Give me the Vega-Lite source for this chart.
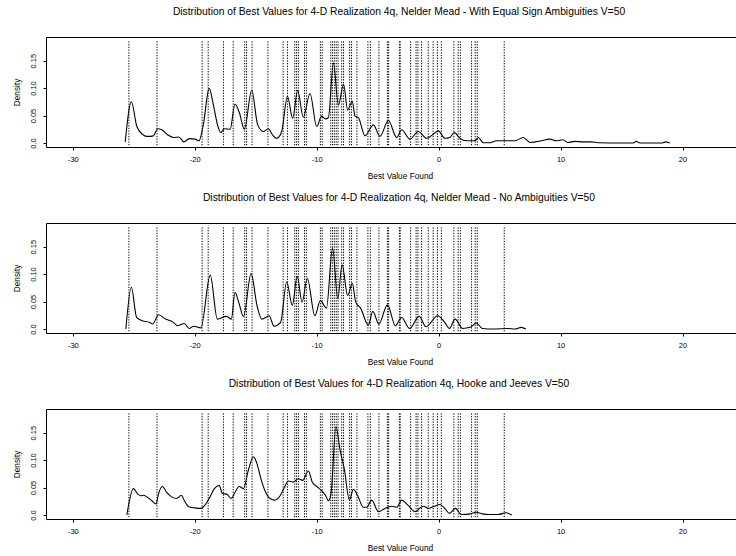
{
  "$schema": "https://vega.github.io/schema/vega-lite/v6.json",
  "padding": {"left": 12, "top": 6, "right": 0, "bottom": 0},
  "background": "white",
  "config": {
    "font": "Liberation Sans",
    "view": {"stroke": null},
    "axis": {"grid": false, "domainColor": "black", "tickColor": "black", "labelColor": "black", "titleColor": "black", "labelFontSize": 7.5, "titleFontSize": 8.3, "titleFontWeight": "normal", "tickSize": 3},
    "title": {"fontSize": 10.3, "fontWeight": "normal", "color": "black", "anchor": "middle", "dx": 7, "offset": 20}
  },
  "spacing": 76,
  "bounds": "flush",
  "datasets": {
    "vlines": [
      {"v": -25.4}, {"v": -23.1}, {"v": -19.4}, {"v": -18.9}, {"v": -17.65}, {"v": -16.85}, {"v": -15.9}, {"v": -15.75}, {"v": -15.3}, {"v": -14.0},
      {"v": -12.75}, {"v": -12.4}, {"v": -11.8}, {"v": -11.65}, {"v": -11.5}, {"v": -11.0}, {"v": -10.85}, {"v": -9.7}, {"v": -9.55},
      {"v": -8.85}, {"v": -8.7}, {"v": -8.55}, {"v": -8.4}, {"v": -8.25}, {"v": -7.95}, {"v": -7.8}, {"v": -7.3}, {"v": -7.15}, {"v": -6.7},
      {"v": -5.8}, {"v": -5.6}, {"v": -4.9}, {"v": -4.2}, {"v": -4.1}, {"v": -3.22}, {"v": -3.15}, {"v": -2.3}, {"v": -1.85}, {"v": -1.7},
      {"v": -1.4}, {"v": -0.85}, {"v": -0.45}, {"v": -0.1}, {"v": 0.22}, {"v": 1.25}, {"v": 1.6}, {"v": 1.78}, {"v": 2.7}, {"v": 3.0}, {"v": 3.17}, {"v": 5.38}
    ],
    "p1": [
      {"v": -25.7, "d": 0.002}, {"v": -25.2, "d": 0.075}, {"v": -24.75, "d": 0.030}, {"v": -24.3, "d": 0.016}, {"v": -24.1, "d": 0.013}, {"v": -23.8, "d": 0.012}, {"v": -23.4, "d": 0.013}, {"v": -23.03, "d": 0.026}, {"v": -22.7, "d": 0.024}, {"v": -22.2, "d": 0.0145},
      {"v": -21.75, "d": 0.010}, {"v": -21.3, "d": 0.011}, {"v": -20.9, "d": 0.002}, {"v": -20.45, "d": 0.008}, {"v": -19.97, "d": 0.007}, {"v": -19.65, "d": 0.004}, {"v": -19.3, "d": 0.033}, {"v": -18.82, "d": 0.0995}, {"v": -18.47, "d": 0.069}, {"v": -18.1, "d": 0.030},
      {"v": -17.87, "d": 0.019}, {"v": -17.57, "d": 0.026}, {"v": -17.1, "d": 0.025}, {"v": -16.7, "d": 0.071}, {"v": -16.34, "d": 0.055}, {"v": -15.93, "d": 0.025}, {"v": -15.33, "d": 0.096}, {"v": -14.84, "d": 0.033}, {"v": -14.37, "d": 0.021}, {"v": -13.96, "d": 0.026},
      {"v": -13.63, "d": 0.015}, {"v": -13.28, "d": 0.0085}, {"v": -12.87, "d": 0.021}, {"v": -12.4, "d": 0.085}, {"v": -11.97, "d": 0.045}, {"v": -11.56, "d": 0.096}, {"v": -11.1, "d": 0.047}, {"v": -10.55, "d": 0.090}, {"v": -10.0, "d": 0.030}, {"v": -9.6, "d": 0.049},
      {"v": -9.3, "d": 0.044}, {"v": -9.04, "d": 0.046}, {"v": -8.63, "d": 0.146}, {"v": -8.22, "d": 0.069}, {"v": -7.8, "d": 0.107}, {"v": -7.46, "d": 0.060}, {"v": -7.08, "d": 0.076}, {"v": -6.86, "d": 0.049}, {"v": -6.58, "d": 0.046}, {"v": -6.04, "d": 0.013},
      {"v": -5.35, "d": 0.033}, {"v": -4.81, "d": 0.012}, {"v": -4.12, "d": 0.041}, {"v": -3.44, "d": 0.010}, {"v": -3.03, "d": 0.024}, {"v": -2.35, "d": 0.007}, {"v": -1.67, "d": 0.021}, {"v": -0.98, "d": 0.0085}, {"v": -0.44, "d": 0.016}, {"v": -0.03, "d": 0.022},
      {"v": 0.52, "d": 0.0085}, {"v": 0.93, "d": 0.010}, {"v": 1.28, "d": 0.019}, {"v": 1.75, "d": 0.0085}, {"v": 2.3, "d": 0.004}, {"v": 2.98, "d": 0.004}, {"v": 3.25, "d": 0.010}, {"v": 3.66, "d": 0.0005}, {"v": 4.2, "d": 0.0005}, {"v": 4.75, "d": 0.004},
      {"v": 5.4, "d": 0.004}, {"v": 6.25, "d": 0.004}, {"v": 6.94, "d": 0.010}, {"v": 7.5, "d": 0.001}, {"v": 8.44, "d": 0.004}, {"v": 9.1, "d": 0.007}, {"v": 9.67, "d": 0.004}, {"v": 10.2, "d": 0.006}, {"v": 10.6, "d": 0.001}, {"v": 11.17, "d": 0.003},
      {"v": 11.86, "d": 0.002}, {"v": 12.5, "d": 0.002}, {"v": 13.1, "d": 0.0005}, {"v": 15.0, "d": 0.0}, {"v": 15.96, "d": 0.0}, {"v": 16.2, "d": 0.003}, {"v": 16.5, "d": 0.0}, {"v": 18.3, "d": 0.0}, {"v": 18.6, "d": 0.002}, {"v": 18.96, "d": 0.0}
    ],
    "p2": [
      {"v": -25.65, "d": 0.0}, {"v": -25.2, "d": 0.076}, {"v": -24.77, "d": 0.021}, {"v": -24.3, "d": 0.015}, {"v": -23.7, "d": 0.012}, {"v": -23.46, "d": 0.009}, {"v": -22.96, "d": 0.026}, {"v": -22.4, "d": 0.018}, {"v": -21.8, "d": 0.013}, {"v": -21.4, "d": 0.006},
      {"v": -20.85, "d": 0.010}, {"v": -20.46, "d": 0.001}, {"v": -20.1, "d": 0.005}, {"v": -19.5, "d": 0.002}, {"v": -18.73, "d": 0.098}, {"v": -18.15, "d": 0.018}, {"v": -17.4, "d": 0.023}, {"v": -17.0, "d": 0.018}, {"v": -16.7, "d": 0.067}, {"v": -16.4, "d": 0.049},
      {"v": -16.0, "d": 0.023}, {"v": -15.38, "d": 0.101}, {"v": -14.9, "d": 0.043}, {"v": -14.5, "d": 0.018}, {"v": -13.9, "d": 0.024}, {"v": -13.5, "d": 0.005}, {"v": -12.96, "d": 0.012}, {"v": -12.46, "d": 0.086}, {"v": -12.0, "d": 0.043}, {"v": -11.6, "d": 0.096},
      {"v": -11.2, "d": 0.049}, {"v": -10.77, "d": 0.092}, {"v": -10.15, "d": 0.024}, {"v": -9.7, "d": 0.052}, {"v": -9.2, "d": 0.038}, {"v": -8.7, "d": 0.148}, {"v": -8.27, "d": 0.055}, {"v": -7.92, "d": 0.117}, {"v": -7.46, "d": 0.061}, {"v": -7.08, "d": 0.083},
      {"v": -6.8, "d": 0.049}, {"v": -6.4, "d": 0.038}, {"v": -5.77, "d": 0.007}, {"v": -5.4, "d": 0.032}, {"v": -4.9, "d": 0.009}, {"v": -4.2, "d": 0.044}, {"v": -3.54, "d": 0.006}, {"v": -3.04, "d": 0.021}, {"v": -2.38, "d": 0.001}, {"v": -1.6, "d": 0.023},
      {"v": -1.04, "d": 0.004}, {"v": -0.08, "d": 0.024}, {"v": 0.5, "d": 0.012}, {"v": 0.88, "d": 0.001}, {"v": 1.35, "d": 0.018}, {"v": 1.96, "d": 0.001}, {"v": 2.6, "d": 0.003}, {"v": 3.1, "d": 0.011}, {"v": 3.58, "d": 0.001}, {"v": 4.5, "d": 0.0},
      {"v": 5.7, "d": 0.001}, {"v": 6.27, "d": 0.0}, {"v": 6.77, "d": 0.003}, {"v": 7.15, "d": 0.0}
    ],
    "p3": [
      {"v": -25.57, "d": 0.0}, {"v": -25.03, "d": 0.048}, {"v": -24.67, "d": 0.038}, {"v": -24.4, "d": 0.035}, {"v": -24.2, "d": 0.036}, {"v": -23.93, "d": 0.033}, {"v": -23.52, "d": 0.026}, {"v": -23.17, "d": 0.020}, {"v": -22.98, "d": 0.038}, {"v": -22.65, "d": 0.052},
      {"v": -22.3, "d": 0.041}, {"v": -21.9, "d": 0.033}, {"v": -21.5, "d": 0.030}, {"v": -21.1, "d": 0.036}, {"v": -20.85, "d": 0.026}, {"v": -20.5, "d": 0.015}, {"v": -20.0, "d": 0.013}, {"v": -19.5, "d": 0.012}, {"v": -19.1, "d": 0.020}, {"v": -18.75, "d": 0.033},
      {"v": -18.39, "d": 0.048}, {"v": -18.0, "d": 0.054}, {"v": -17.73, "d": 0.039}, {"v": -17.38, "d": 0.038}, {"v": -17.02, "d": 0.030}, {"v": -16.7, "d": 0.041}, {"v": -16.37, "d": 0.052}, {"v": -16.0, "d": 0.048}, {"v": -15.6, "d": 0.082}, {"v": -15.19, "d": 0.106},
      {"v": -14.92, "d": 0.095}, {"v": -14.56, "d": 0.065}, {"v": -14.24, "d": 0.044}, {"v": -13.83, "d": 0.030}, {"v": -13.42, "d": 0.027}, {"v": -13.0, "d": 0.035}, {"v": -12.65, "d": 0.050}, {"v": -12.32, "d": 0.062}, {"v": -11.9, "d": 0.060}, {"v": -11.5, "d": 0.066},
      {"v": -11.15, "d": 0.063}, {"v": -10.68, "d": 0.080}, {"v": -10.35, "d": 0.059}, {"v": -10.0, "d": 0.052}, {"v": -9.59, "d": 0.044}, {"v": -9.26, "d": 0.035}, {"v": -9.04, "d": 0.026}, {"v": -8.83, "d": 0.038}, {"v": -8.42, "d": 0.161}, {"v": -8.09, "d": 0.119},
      {"v": -7.73, "d": 0.083}, {"v": -7.32, "d": 0.027}, {"v": -6.99, "d": 0.047}, {"v": -6.64, "d": 0.035}, {"v": -6.17, "d": 0.014}, {"v": -5.9, "d": 0.014}, {"v": -5.49, "d": 0.027}, {"v": -4.94, "d": 0.006}, {"v": -4.4, "d": 0.012}, {"v": -3.85, "d": 0.016},
      {"v": -3.44, "d": 0.014}, {"v": -3.03, "d": 0.027}, {"v": -2.48, "d": 0.017}, {"v": -1.94, "d": 0.006}, {"v": -1.45, "d": 0.014}, {"v": -1.23, "d": 0.016}, {"v": -0.85, "d": 0.012}, {"v": -0.46, "d": 0.015}, {"v": 0.12, "d": 0.019}, {"v": 0.5, "d": 0.012},
      {"v": 0.88, "d": 0.003}, {"v": 1.38, "d": 0.012}, {"v": 1.85, "d": 0.001}, {"v": 2.6, "d": 0.002}, {"v": 3.08, "d": 0.005}, {"v": 3.58, "d": 0.002}, {"v": 4.15, "d": 0.001}, {"v": 4.9, "d": 0.001}, {"v": 5.5, "d": 0.004}, {"v": 6.0, "d": 0.0}
    ]
  },
  "vconcat": [
    {
      "title": {"text": "Distribution of Best Values for 4-D Realization 4q, Nelder Mead - With Equal Sign Ambiguities V=50"},
      "width": 692, "height": 110,
      "resolve": {"axis": {"x": "independent", "y": "independent"}},
      "layer": [
        {
          "data": {"name": "vlines"},
          "mark": {"type": "rule", "color": "black", "strokeWidth": 1, "strokeDash": [1.3, 1.4]},
          "encoding": {
            "x": {"field": "v", "type": "quantitative", "scale": {"domain": [-32.2, 24.55], "nice": false, "zero": false}, "axis": {"orient": "top", "labels": false, "ticks": false, "title": null, "domain": true}},
            "y": {"datum": 0.185, "type": "quantitative", "scale": {"domain": [-0.0073, 0.193], "nice": false, "zero": false}, "axis": null},
            "y2": {"datum": -0.004}
          }
        },
        {
          "data": {"name": "p1"},
          "mark": {"type": "line", "color": "black", "strokeWidth": 1.1, "interpolate": "monotone"},
          "encoding": {
            "x": {"field": "v", "type": "quantitative", "axis": {"orient": "bottom", "values": [-30, -20, -10, 0, 10, 20], "labelExpr": "'' + datum.value", "labelPadding": 5.5, "title": "Best Value Found", "titleX": 354, "titleY": 24, "titleBaseline": "top"}},
            "y": {"field": "d", "type": "quantitative", "axis": {"values": [0, 0.05, 0.1, 0.15], "labelExpr": "datum.value == 0 ? '0.0' : format(datum.value, '.2f')", "labelAngle": 270, "labelAlign": "center", "labelBaseline": "middle", "labelPadding": 10, "title": "Density", "titleX": -29, "titleBaseline": "middle"}}
          }
        }
      ]
    },
    {
      "title": {"text": "Distribution of Best Values for 4-D Realization 4q, Nelder Mead - No Ambiguities V=50"},
      "width": 692, "height": 110,
      "resolve": {"axis": {"x": "independent", "y": "independent"}},
      "layer": [
        {
          "data": {"name": "vlines"},
          "mark": {"type": "rule", "color": "black", "strokeWidth": 1, "strokeDash": [1.3, 1.4]},
          "encoding": {
            "x": {"field": "v", "type": "quantitative", "scale": {"domain": [-32.2, 24.55], "nice": false, "zero": false}, "axis": {"orient": "top", "labels": false, "ticks": false, "title": null, "domain": true}},
            "y": {"datum": 0.185, "type": "quantitative", "scale": {"domain": [-0.0073, 0.193], "nice": false, "zero": false}, "axis": null},
            "y2": {"datum": -0.004}
          }
        },
        {
          "data": {"name": "p2"},
          "mark": {"type": "line", "color": "black", "strokeWidth": 1.1, "interpolate": "monotone"},
          "encoding": {
            "x": {"field": "v", "type": "quantitative", "axis": {"orient": "bottom", "values": [-30, -20, -10, 0, 10, 20], "labelExpr": "'' + datum.value", "labelPadding": 5.5, "title": "Best Value Found", "titleX": 354, "titleY": 24, "titleBaseline": "top"}},
            "y": {"field": "d", "type": "quantitative", "axis": {"values": [0, 0.05, 0.1, 0.15], "labelExpr": "datum.value == 0 ? '0.0' : format(datum.value, '.2f')", "labelAngle": 270, "labelAlign": "center", "labelBaseline": "middle", "labelPadding": 10, "title": "Density", "titleX": -29, "titleBaseline": "middle"}}
          }
        }
      ]
    },
    {
      "title": {"text": "Distribution of Best Values for 4-D Realization 4q, Hooke and Jeeves V=50"},
      "width": 692, "height": 110,
      "resolve": {"axis": {"x": "independent", "y": "independent"}},
      "layer": [
        {
          "data": {"name": "vlines"},
          "mark": {"type": "rule", "color": "black", "strokeWidth": 1, "strokeDash": [1.3, 1.4]},
          "encoding": {
            "x": {"field": "v", "type": "quantitative", "scale": {"domain": [-32.2, 24.55], "nice": false, "zero": false}, "axis": {"orient": "top", "labels": false, "ticks": false, "title": null, "domain": true}},
            "y": {"datum": 0.185, "type": "quantitative", "scale": {"domain": [-0.0073, 0.193], "nice": false, "zero": false}, "axis": null},
            "y2": {"datum": -0.004}
          }
        },
        {
          "data": {"name": "p3"},
          "mark": {"type": "line", "color": "black", "strokeWidth": 1.1, "interpolate": "monotone"},
          "encoding": {
            "x": {"field": "v", "type": "quantitative", "axis": {"orient": "bottom", "values": [-30, -20, -10, 0, 10, 20], "labelExpr": "'' + datum.value", "labelPadding": 5.5, "title": "Best Value Found", "titleX": 354, "titleY": 24, "titleBaseline": "top"}},
            "y": {"field": "d", "type": "quantitative", "axis": {"values": [0, 0.05, 0.1, 0.15], "labelExpr": "datum.value == 0 ? '0.0' : format(datum.value, '.2f')", "labelAngle": 270, "labelAlign": "center", "labelBaseline": "middle", "labelPadding": 10, "title": "Density", "titleX": -29, "titleBaseline": "middle"}}
          }
        }
      ]
    }
  ]
}
